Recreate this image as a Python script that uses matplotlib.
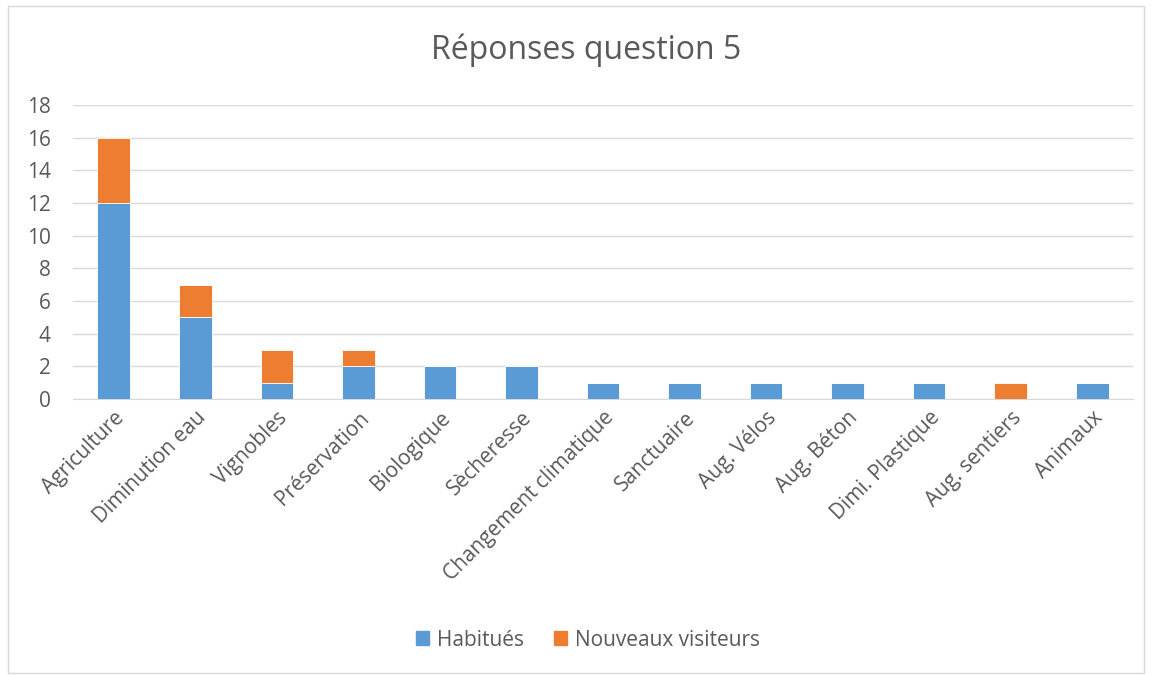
import matplotlib.pyplot as plt
from matplotlib.patches import Rectangle
import numpy as np

plt.rcParams['font.family'] = ['Open Sans', 'DejaVu Sans']

categories = ["Agriculture", "Diminution eau", "Vignobles", "Préservation",
              "Biologique", "Sècheresse", "Changement climatique", "Sanctuaire",
              "Aug. Vélos", "Aug. Béton", "Dimi. Plastique", "Aug. sentiers",
              "Animaux"]
habitues = [12, 5, 1, 2, 2, 2, 1, 1, 1, 1, 1, 0, 1]
nouveaux = [4, 2, 2, 1, 0, 0, 0, 0, 0, 0, 0, 1, 0]

blue = "#5B9BD5"
orange = "#ED7D31"
txt = "#595959"
grid = "#D9D9D9"

W, H = 1153, 675
fig = plt.figure(figsize=(W / 100, H / 100), dpi=100)

# chart border
fig.patches.append(Rectangle((8 / W, 2 / H), (1144 - 8) / W, (669 - 2) / H,
                             transform=fig.transFigure, fill=False,
                             edgecolor=grid, linewidth=1.0))

ax = fig.add_axes([73 / W, 1 - 399 / H, (1133 - 73) / W, (399 - 105) / H])
x = np.arange(len(categories))
ax.bar(x, habitues, width=0.4, color=blue, edgecolor="white", linewidth=0.6, zorder=3)
ax.bar(x, nouveaux, width=0.4, bottom=habitues, color=orange, edgecolor="white",
       linewidth=0.6, zorder=3)

ax.set_xlim(-0.5, len(categories) - 0.5)
ax.set_ylim(0, 18)
ax.set_yticks(np.arange(0, 19, 2))
ax.yaxis.grid(True, color=grid, linewidth=1.0, zorder=0)
ax.set_axisbelow(True)
for s in ["top", "right", "left"]:
    ax.spines[s].set_visible(False)
ax.spines["bottom"].set_color(grid)
ax.tick_params(axis="both", length=0, colors=txt, labelsize=15)
ax.tick_params(axis="y", pad=16)
ax.tick_params(axis="x", pad=6)
ax.set_xticks(x)
ax.set_xticklabels(categories, rotation=45, ha="right", rotation_mode="anchor")
for lab in ax.get_xticklabels():
    lab.set_color(txt)

fig.text(586 / W, 1 - 50 / H, "Réponses question 5", ha="center", va="center",
         fontsize=23, color=txt)

h1 = Rectangle((0, 0), 1, 1, color=blue)
h2 = Rectangle((0, 0), 1, 1, color=orange)
leg = fig.legend([h1, h2], ["Habitués", "Nouveaux visiteurs"], loc="center",
                 bbox_to_anchor=(588 / W, 1 - 640 / H), ncol=2, frameon=False,
                 fontsize=15, handlelength=0.65, handleheight=0.65,
                 columnspacing=1.4, handletextpad=0.4)
for t in leg.get_texts():
    t.set_color(txt)

fig.savefig("out.png", dpi=100)
